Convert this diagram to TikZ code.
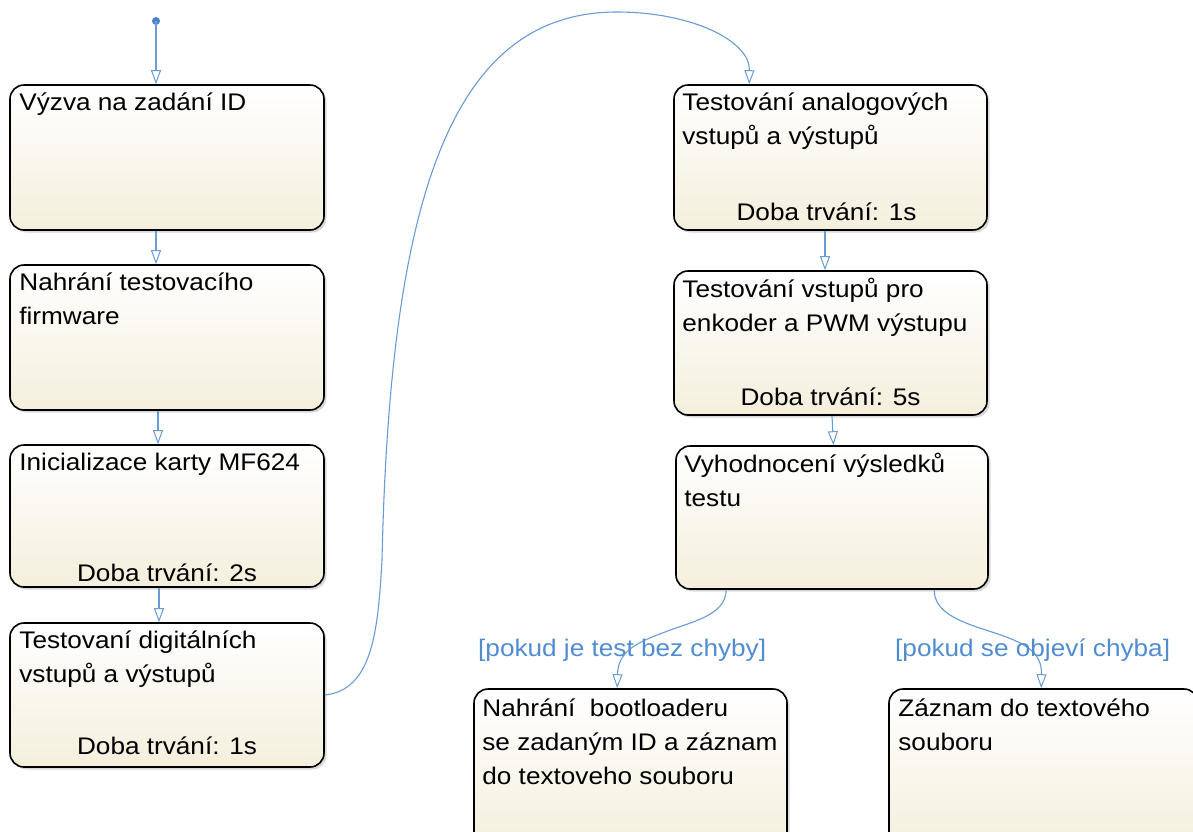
\documentclass[tikz,border=0pt]{standalone}
\usepackage{fontspec}
\setmainfont{Liberation Sans}[FakeStretch=1.09]
\usetikzlibrary{arrows.meta,shadows,calc}

\definecolor{cream}{RGB}{244,239,220}
\definecolor{linkblue}{RGB}{105,155,212}
\definecolor{dotblue}{RGB}{72,130,200}
\definecolor{guardblue}{RGB}{80,140,210}

\newcommand{\stacklines}[1]{\begin{tabular}[t]{@{}l@{}}#1\end{tabular}}

\tikzset{
  state/.style={draw=black, line width=1.6pt, rounded corners=14pt,
    top color=white, bottom color=cream, inner sep=0pt,
    drop shadow={shadow xshift=2.5pt, shadow yshift=-2.5pt, opacity=0.3}},
  title/.style={anchor=base west, inner sep=0pt, font=\fontsize{24}{34}\selectfont},
  footer/.style={anchor=base, inner sep=0pt, font=\fontsize{24}{34}\selectfont},
  guard/.style={anchor=base west, inner sep=0pt, text=guardblue, font=\fontsize{24}{34}\selectfont},
  trans/.style={draw=linkblue, line width=1.1pt,
    -{Triangle[open, length=14pt, width=10pt, line width=1pt]}},
}

\begin{document}
\begin{tikzpicture}[x=1pt, y=-1pt]
\useasboundingbox (0,0) rectangle (1193,831);

% states, left column
\node[state, minimum width=314pt, minimum height=145pt] (b1) at (167,157.5) {};
\node[state, minimum width=314pt, minimum height=145pt] (b2) at (167,337.5) {};
\node[state, minimum width=314pt, minimum height=142pt] (b3) at (167,516) {};
\node[state, minimum width=314pt, minimum height=144pt] (b4) at (167,695) {};
% states, right column
\node[state, minimum width=313pt, minimum height=145pt] (b5) at (830.5,157.5) {};
\node[state, minimum width=313pt, minimum height=144pt] (b6) at (830.5,343) {};
\node[state, minimum width=312pt, minimum height=143pt] (b7) at (832,517.5) {};
% final states
\node[state, minimum width=313pt, minimum height=161pt] (b8) at (630.5,769.5) {};
\node[state, minimum width=309pt, minimum height=161pt] (b9) at (1043.5,769.5) {};

% state texts
\node[title] (t1) at ($(b1.north west)+(10,26)$) {Výzva na zadání ID};
\node[title] (t2) at ($(b2.north west)+(10,26)$) {\stacklines{Nahrání testovacího\\firmware}};
\node[title] (t3) at ($(b3.north west)+(10,26)$) {Inicializace karty MF624};
\node[footer] (f3) at ($(b3.south)+(0,-6)$) {Doba trvání: 2s};
\node[title] (t4) at ($(b4.north west)+(10,26)$) {\stacklines{Testovaní digitálních\\vstupů a výstupů}};
\node[footer] (f4) at ($(b4.south)+(0,-13)$) {Doba trvání: 1s};
\node[title] (t5) at ($(b5.north west)+(9,26)$) {\stacklines{Testování analogových\\vstupů a výstupů}};
\node[footer] (f5) at ($(b5.south)+(-4,-10)$) {Doba trvání: 1s};
\node[title] (t6) at ($(b6.north west)+(9,27)$) {\stacklines{Testování vstupů pro\\enkoder a PWM výstupu}};
\node[footer] (f6) at ($(b6.south)+(0,-10)$) {Doba trvání: 5s};
\node[title] (t7) at ($(b7.north west)+(9,27)$) {\stacklines{Vyhodnocení výsledků\\testu}};
\node[title] (t8) at ($(b8.north west)+(9,28)$) {\stacklines{Nahrání \ bootloaderu\\se zadaným ID a záznam\\do textoveho souboru}};
\node[title] (t9) at ($(b9.north west)+(10,28)$) {\stacklines{Záznam do textového\\souboru}};

% initial pseudo-state
\fill[dotblue] (156,21) circle (4pt);
\coordinate (init) at (156,21);
\draw[trans] (init) -- ($(b1.north)+(-11,0)$);

% straight transitions
\draw[trans] ($(b1.south)+(-11,0)$) -- ($(b2.north)+(-11,0)$);
\draw[trans] ($(b2.south)+(-9,0)$) -- ($(b3.north)+(-9,0)$);
\draw[trans] ($(b3.south)+(-8,0)$) -- ($(b4.north)+(-8,0)$);
\draw[trans] ($(b5.south)+(-5.5,0)$) -- ($(b6.north)+(-5.5,0)$);
\draw[trans] ($(b6.south)+(1.5,0)$) -- ($(b7.north)+(1.5,0)$);

% long transition to the second column
\coordinate (up1) at (382,560);
\coordinate (top) at (617,12);
\draw[trans] (b4.east)
  .. controls +(48,-5) and +(-4,70) .. (up1)
  .. controls (390,200) and (450,12) .. (top)
  .. controls (690,12) and (750,40) .. ($(b5.north west)+(76,0)$);

% guarded transitions
\coordinate (mid1) at (665,632);
\coordinate (mid2) at (995,633);
\draw[trans] ($(b7.south west)+(51,0)$)
  .. controls +(0,26) and (690,622) .. (mid1)
  .. controls (635,643) and (618,652) .. ($(b8.north west)+(144,0)$);
\draw[trans] ($(b7.south west)+(259,0)$)
  .. controls +(0,23) and (960,622) .. (mid2)
  .. controls (1025,643) and (1042,652) .. ($(b9.north west)+(153,0)$);

\node[guard] (g1) at (478,656) {[pokud je test bez chyby]};
\node[guard] (g2) at (895,656) {[pokud se objeví chyba]};
\end{tikzpicture}
\end{document}
